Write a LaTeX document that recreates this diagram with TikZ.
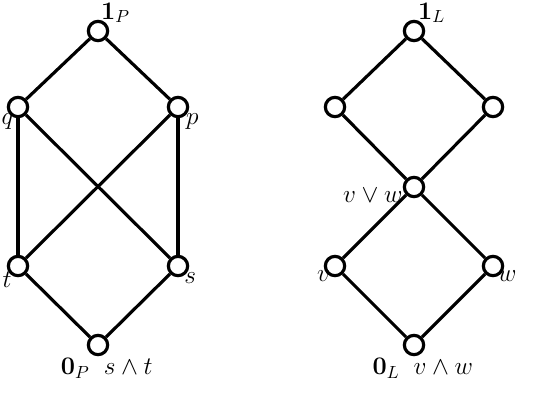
\documentclass[tikz,border=0pt]{standalone}
\usepackage{amsmath,amssymb}
\usepackage{xcolor}
\usepackage{tikz}
\usetikzlibrary{positioning}

\begin{document}
\begin{tikzpicture}[
  x=0.02cm, y=-0.02cm,
  elem/.style={circle, draw, fill=white, line width=1.8pt, inner sep=0pt, minimum size=11pt},
  edge/.style={line width=1.8pt},
  every label/.style={font=\Large, inner sep=1pt}
]
  \useasboundingbox (0,0) rectangle (536,406);
  % lattice P
  \node[elem, label={[xshift=10pt, label distance=-3pt]above:$\mathbf{1}_P$}] (topP) at (98,31) {};
  \node[elem, label={[label distance=-3pt, xshift=1pt]below left:$q$}] (q) at (18,107) {};
  \node[elem, label={[label distance=-3pt, xshift=1pt]below right:$p$}] (p) at (178,107) {};
  \node[elem, label={[label distance=-3pt]below left:$t$}] (t) at (18,266) {};
  \node[elem, label={[label distance=-3pt]below right:$s$}] (s) at (178,266) {};
  \node[elem, label={[xshift=5pt]below:$\mathbf{0}_P\;\; s\wedge t$}] (botP) at (98,345) {};
  \foreach \a/\b in {topP/q, topP/p, q/t, q/s, p/t, p/s, t/botP, s/botP}
    \draw[edge] (\a) -- (\b);
  % lattice L
  \node[elem, label={[xshift=10pt, label distance=-3pt]above:$\mathbf{1}_L$}] (topL) at (414,31) {};
  \node[elem] (a) at (335,107) {};
  \node[elem] (b) at (493,107) {};
  \node[elem, label={[label distance=-1pt, yshift=-5pt]left:$v\vee w$}] (j) at (414,187) {};
  \node[elem, label={[label distance=-4pt]below left:$v$}] (v) at (335,266) {};
  \node[elem, label={[label distance=-4pt]below right:$w$}] (w) at (493,266) {};
  \node[elem, label={[xshift=5pt]below:$\mathbf{0}_L\;\; v\wedge w$}] (botL) at (414,345) {};
  \foreach \a/\b in {topL/a, topL/b, a/j, b/j, j/v, j/w, v/botL, w/botL}
    \draw[edge] (\a) -- (\b);
\end{tikzpicture}
\end{document}
